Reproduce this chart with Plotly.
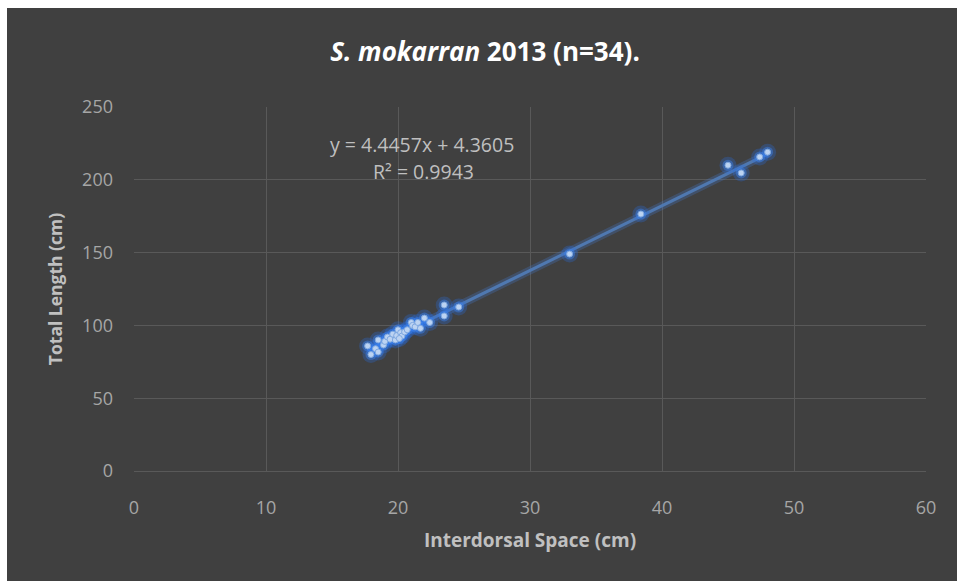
import plotly.graph_objects as go

# Interdorsal space (cm) and total length (cm) for 34 S. mokarran, 2013
interdorsal_cm = [17.7, 17.95, 18.3, 18.5, 18.5, 18.9, 19.0, 19.2, 19.4, 19.6,
                  19.8, 19.9, 20.0, 20.2, 20.3, 20.5, 20.7, 21.0, 21.1, 21.3,
                  21.5, 21.7, 22.0, 22.4, 23.5, 23.5, 24.6, 33.0, 38.4, 45.0,
                  46.0, 47.4, 48.0, 20.1]
total_length_cm = [85.9, 80.0, 84.0, 81.7, 90.0, 86.5, 89.0, 92.0, 90.5, 94.0,
                   90.0, 93.0, 97.0, 95.0, 92.7, 95.5, 97.0, 102.0, 100.0, 99.0,
                   102.0, 98.0, 105.0, 102.0, 114.0, 106.5, 112.6, 149.0, 176.5, 210.0,
                   204.7, 215.7, 219.0, 91.0]

# Linear trend line coefficients
slope = 4.4457
intercept = 4.3605
r_squared = 0.9943

x_ticks = [0, 10, 20, 30, 40, 50, 60]
y_ticks = [0, 50, 100, 150, 200, 250]

font_family = "Open Sans, Liberation Sans, sans-serif"
bg_dark = "#404040"
grid_col = "#595959"
label_col = "#a6a6a6"
title_col = "#c0c0c0"

x_lo, x_hi = min(interdorsal_cm), max(interdorsal_cm)
trend_x = [x_lo, x_hi]
trend_y = [slope * v + intercept for v in trend_x]

fig = go.Figure()

# soft glow along the trend line
fig.add_trace(go.Scatter(
    x=trend_x, y=trend_y, mode="lines",
    line=dict(color="rgba(70,120,200,0.3)", width=8),
    hoverinfo="skip", showlegend=False))
fig.add_trace(go.Scatter(
    x=trend_x, y=trend_y, mode="lines",
    line=dict(color="#4f78b0", width=3),
    hoverinfo="skip", showlegend=False))

# glow halo behind each point
fig.add_trace(go.Scatter(
    x=interdorsal_cm, y=total_length_cm, mode="markers",
    marker=dict(size=17, color="rgba(40,110,230,0.28)", line=dict(width=0)),
    hoverinfo="skip", showlegend=False))
fig.add_trace(go.Scatter(
    x=interdorsal_cm, y=total_length_cm, mode="markers",
    marker=dict(size=11, color="rgba(60,130,240,0.45)", line=dict(width=0)),
    hoverinfo="skip", showlegend=False))
fig.add_trace(go.Scatter(
    x=interdorsal_cm, y=total_length_cm, mode="markers",
    marker=dict(size=6, color="#bcd3f2", line=dict(width=1, color="#7fa8e0")),
    showlegend=False))

# trend-line equation and R² label
eq_font = dict(family=font_family, size=19.5, color="#bfbfbf")
fig.add_annotation(
    x=21.8, y=224, xref="x", yref="y",
    text=f"y = {slope}x + {intercept}",
    showarrow=False, font=eq_font)
fig.add_annotation(
    x=21.9, y=205.5, xref="x", yref="y",
    text=f"R² = {r_squared}",
    showarrow=False, font=eq_font)

# dark chart panel inside a thin white border
fig.add_shape(type="rect", xref="paper", yref="paper",
              x0=(7 - 134) / 792, x1=(957 - 134) / 792,
              y0=(471 - 581) / 364, y1=(471 - 8) / 364,
              fillcolor=bg_dark, line=dict(width=0), layer="below")

fig.update_layout(
    width=957, height=581,
    margin=dict(l=134, r=31, t=107, b=110),
    paper_bgcolor="white",
    plot_bgcolor=bg_dark,
    title=dict(
        text="<b><i>S. mokarran</i> 2013 (n=34).</b>",
        x=485 / 957, xanchor="center", y=1 - 52 / 581, yanchor="middle",
        font=dict(family=font_family, size=26, color="white")),
    xaxis=dict(
        range=[0, 60], tickvals=x_ticks, showgrid=True, gridcolor=grid_col,
        gridwidth=1, zeroline=False, showline=True, linecolor=grid_col,
        ticks="", ticklabelstandoff=20,
        tickfont=dict(family=font_family, size=18, color=label_col),
        title=dict(text="<b>Interdorsal Space (cm)</b>", standoff=16,
                   font=dict(family=font_family, size=19, color=title_col))),
    yaxis=dict(
        range=[0, 250], tickvals=y_ticks, showgrid=True, gridcolor=grid_col,
        gridwidth=1, zeroline=False, showline=False,
        ticks="", ticklabelstandoff=20,
        tickfont=dict(family=font_family, size=18, color=label_col),
        title=dict(text="<b>Total Length (cm)</b>", standoff=14,
                   font=dict(family=font_family, size=17.5, color=title_col))),
)

fig.write_html("out.html")
